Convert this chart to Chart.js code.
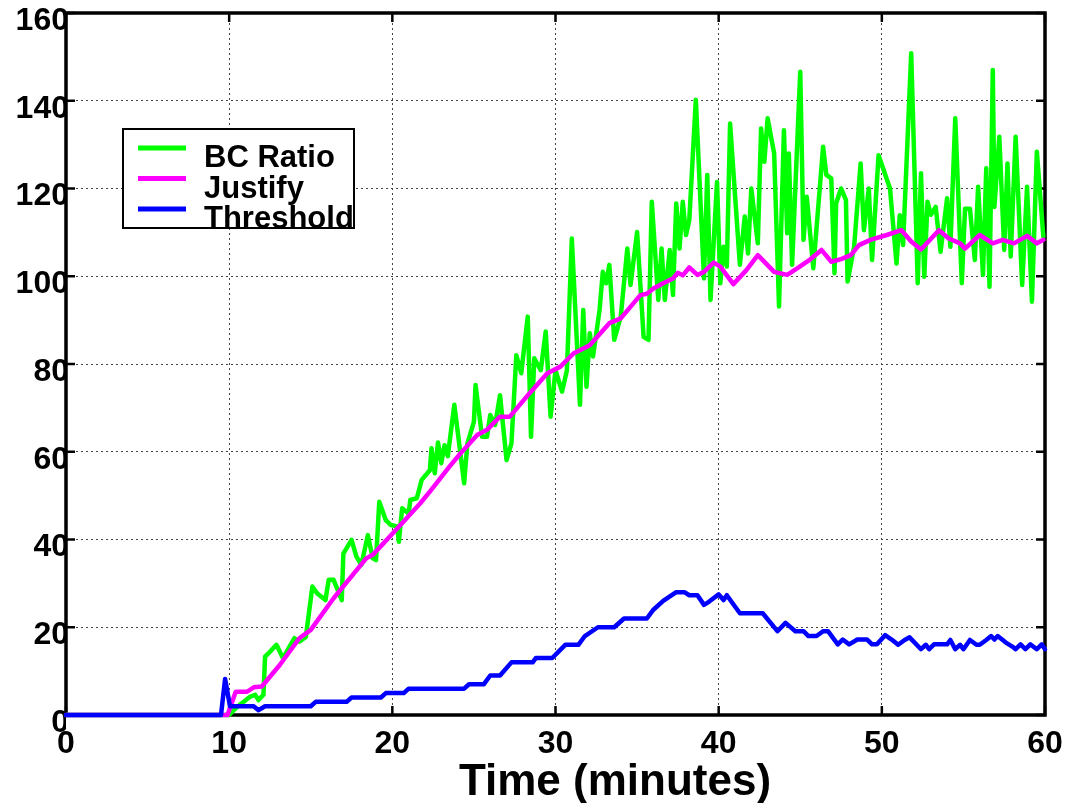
<!DOCTYPE html>
<html>
<head>
<meta charset="utf-8">
<script src="https://cdn.jsdelivr.net/npm/chart.js@4"></script>
<style>
  html, body { margin: 0; padding: 0; background: #fff; }
</style>
</head>
<body>
<canvas id="chart" width="1071" height="803"></canvas>
<script>
// Data (time in minutes)
const bcTime = [0, 9.9, 10.0, 10.5, 11.3, 11.6, 11.8, 12.1, 12.2, 12.5, 12.9, 13.3, 13.7, 14.0, 14.3, 14.7,
  15.1, 15.4, 15.9, 16.1, 16.4, 16.9, 17.0, 17.5, 17.8, 18.1, 18.5, 18.8, 19.0, 19.2, 19.6, 19.9,
  20.3, 20.4, 20.6, 21.0, 21.1, 21.5, 21.8, 22.3, 22.4, 22.6, 22.8, 23.0, 23.2, 23.4, 23.8, 24.4,
  24.6, 25.0, 25.1, 25.5, 25.8, 26.0, 26.3, 26.6, 27.0, 27.3, 27.6, 27.9, 28.3, 28.5, 28.7, 29.1,
  29.4, 29.7, 30.0, 30.4, 30.7, 31.0, 31.5, 31.7, 31.9, 32.1, 32.3, 32.7, 32.9, 33.1, 33.3, 33.6,
  34.0, 34.4, 34.6, 35.0, 35.4, 35.7, 35.9, 36.3, 36.5, 36.7, 37.0, 37.2, 37.4, 37.6, 37.8, 38.0,
  38.2, 38.6, 39.1, 39.3, 39.5, 39.9, 40.1, 40.3, 40.5, 40.7, 41.3, 41.6, 41.8, 42.0, 42.4, 42.6,
  42.8, 43.0, 43.4, 43.7, 44.0, 44.2, 44.3, 44.5, 45.0, 45.2, 45.4, 45.8, 46.4, 46.6, 46.9, 47.1,
  47.2, 47.5, 47.8, 47.9, 48.3, 48.7, 48.9, 49.2, 49.4, 49.8, 50.0, 50.5, 50.9, 51.1, 51.3, 51.8,
  52.2, 52.4, 52.6, 52.8, 53.0, 53.3, 53.6, 54.0, 54.2, 54.5, 54.9, 55.1, 55.4, 55.7, 55.9, 56.2,
  56.4, 56.6, 56.8, 56.9, 57.2, 57.5, 57.7, 57.9, 58.2, 58.6, 58.9, 59.2, 59.5, 59.9]
const bcRatio = [0, 0, 0, 1.9, 4.2, 4.6, 3.4, 4.6, 13.3, 14.4, 16.0, 12.9, 15.6, 17.5, 16.7, 17.8,
  29.3, 27.7, 26.2, 30.8, 30.8, 26.2, 36.8, 39.9, 36.1, 34.2, 41.0, 35.7, 35.3, 48.6, 44.4, 43.3,
  43.0, 39.5, 47.1, 45.9, 49.0, 49.4, 53.6, 55.8, 60.8, 55.1, 62.1, 57.4, 61.5, 59.0, 70.7, 52.8,
  61.9, 66.8, 75.2, 63.4, 63.4, 68.4, 66.1, 72.9, 58.1, 61.9, 82.0, 77.9, 90.8, 63.4, 81.3, 78.6,
  87.4, 68.0, 78.6, 73.7, 78.6, 108.6, 70.7, 92.3, 74.8, 87.0, 81.7, 92.3, 101.0, 98.4, 102.6, 85.5,
  90.8, 106.3, 98.0, 110.1, 86.2, 85.5, 117.0, 94.6, 106.3, 94.6, 106.0, 95.7, 116.6, 106.3, 117.0, 109.4,
  112.8, 140.2, 99.5, 123.1, 94.6, 121.5, 98.4, 106.7, 102.2, 134.8, 102.6, 113.6, 105.2, 120.0, 107.5, 133.7,
  126.1, 136.0, 128.0, 93.1, 133.3, 109.8, 128.0, 102.6, 146.6, 108.3, 118.1, 101.8, 129.5, 123.1, 122.3, 100.7,
  116.6, 120.0, 117.4, 98.8, 106.7, 125.7, 110.5, 120.0, 103.7, 127.6, 125.4, 120.0, 102.9, 113.9, 107.1, 150.8,
  98.4, 123.5, 99.9, 117.0, 114.0, 115.8, 105.6, 117.8, 106.7, 136.0, 98.4, 115.4, 115.4, 103.7, 120.4, 100.3,
  124.6, 97.6, 147.0, 115.8, 131.8, 106.0, 125.7, 104.5, 131.8, 98.0, 120.4, 94.2, 128.4, 109.0]

const justifyTime = [0, 9.9, 10.4, 11.1, 11.5, 12.0, 13.1, 14.3, 15.0, 16.4, 18.4, 18.8, 20.3, 21.7, 22.3,
  23.5, 24.1, 25.2, 25.8, 26.6, 27.2, 28.4, 29.5, 30.3, 31.1, 32.1, 33.3, 34.0, 35.2, 35.6, 36.0,
  36.6, 37.2, 37.5, 37.8, 38.2, 38.7, 39.1, 39.7, 40.1, 40.9, 41.7, 42.4, 43.4, 44.2, 44.9, 45.6,
  46.3, 46.9, 47.5, 48.1, 48.6, 49.3, 50.3, 51.2, 51.8, 52.4, 53.5, 54.1, 54.8, 55.1, 56.0, 56.8,
  57.4, 58.1, 58.9, 59.5, 59.9]
const justifyValue = [0, 0, 5.3, 5.3, 6.3, 6.5, 11.4, 17.5, 19.4, 26.6, 35.7, 36.5, 42.5, 48.2, 50.9,
  56.6, 59.3, 63.8, 65.0, 68.0, 68.0, 73.3, 77.9, 79.4, 82.4, 84.3, 89.3, 90.4, 95.7, 96.0, 97.2,
  98.4, 99.5, 100.8, 100.2, 102.0, 100.3, 101.0, 103.1, 102.2, 98.2, 101.4, 104.8, 101.0, 100.3, 102.0, 103.8,
  106.0, 103.3, 103.9, 104.8, 107.1, 108.3, 109.4, 110.5, 107.9, 106.1, 110.5, 108.6, 107.5, 106.3, 109.4, 107.5,
  108.3, 107.5, 109.2, 107.5, 108.3]

const thresholdTime = [0, 9.5, 9.75, 10.05, 11.5, 11.8, 12.2, 15, 15.3, 17.2, 17.5, 19.3, 19.6, 20.7, 21.0,
  24.4, 24.7, 25.6, 26.0, 26.6, 27.3, 28.6, 28.8, 29.8, 30.6, 31.4, 31.8, 32.6, 33.6, 34.2, 35.6,
  36.0, 36.6, 37.4, 37.9, 38.2, 38.7, 39.1, 39.4, 40.0, 40.3, 40.5, 41.3, 42.7, 43.6, 44.1, 44.7,
  45.2, 45.5, 46.0, 46.4, 46.7, 47.3, 47.6, 48.0, 48.5, 49.1, 49.4, 49.7, 50.2, 50.6, 51.0, 51.4,
  51.7, 52.4, 52.7, 52.9, 53.2, 54.0, 54.2, 54.5, 54.8, 55.0, 55.4, 55.8, 56.0, 56.4, 56.7, 56.9,
  57.1, 57.6, 58.0, 58.2, 58.5, 58.8, 59.1, 59.5, 59.8, 60]
const thresholdValue = [0, 0, 8.2, 2, 2, 1.1, 2, 2, 3, 3, 4, 4, 5, 5, 6,
  6, 7, 7, 9, 9, 12, 12, 13, 13, 16, 16, 18, 20, 20, 22, 22,
  24, 26, 28, 28, 27.3, 27.3, 25.1, 25.8, 27.5, 26.2, 27.3, 23.2, 23.2, 19.1, 21, 19.1,
  19.1, 18, 18, 19.1, 19.1, 16.1, 17.2, 16.1, 17.2, 17.2, 16.1, 16.1, 18.2, 17.2, 16, 17.1,
  17.7, 15, 16, 15, 16.1, 16.1, 17.1, 15, 16, 15, 17.1, 16, 16, 17.1, 18, 17.2,
  18, 16.5, 15.6, 15, 16.1, 15, 16.1, 15, 16.1, 15]

const seriesNames = ['BC Ratio', 'Justify', 'Threshold']
const seriesColors = ['#00ff00', '#ff00ff', '#0000ff']
const xTitle = 'Time (minutes)'

const toPoints = (xs, ys) => xs.map((x, i) => ({ x: x, y: ys[i] }))

const FONT = '"Liberation Sans", Arial, sans-serif'

// axes box, inward ticks, legend and x title
const frame = {
  id: 'frame',
  beforeDatasetsDraw(chart) {
    const { ctx, chartArea: a, scales } = chart
    ctx.save()
    ctx.strokeStyle = '#000'
    ctx.lineWidth = 2.5
    ctx.beginPath()
    scales.x.ticks.forEach(t => {
      const px = scales.x.getPixelForValue(t.value)
      ctx.moveTo(px, a.bottom); ctx.lineTo(px, a.bottom - 9)
      ctx.moveTo(px, a.top); ctx.lineTo(px, a.top + 9)
    })
    scales.y.ticks.forEach(t => {
      const py = scales.y.getPixelForValue(t.value)
      ctx.moveTo(a.left, py); ctx.lineTo(a.left + 9, py)
      ctx.moveTo(a.right, py); ctx.lineTo(a.right - 9, py)
    })
    ctx.stroke()
    ctx.lineWidth = 3.5
    ctx.strokeRect(a.left, a.top, a.right - a.left, a.bottom - a.top)
    ctx.restore()
  },
  afterDraw(chart) {
    const { ctx } = chart
    ctx.save()
    // legend
    ctx.fillStyle = '#fff'
    ctx.fillRect(123, 129, 231, 99)
    ctx.strokeStyle = '#000'
    ctx.lineWidth = 2
    ctx.strokeRect(123, 129, 231, 99)
    ctx.font = 'bold 31px ' + FONT
    ctx.textBaseline = 'alphabetic'
    ctx.textAlign = 'left'
    seriesNames.forEach((name, i) => {
      const y = 148 + i * 30.5
      ctx.strokeStyle = seriesColors[i]
      ctx.lineWidth = 5
      ctx.beginPath()
      ctx.moveTo(138, y); ctx.lineTo(186, y)
      ctx.stroke()
      ctx.fillStyle = '#000'
      ctx.fillText(name, 204, y + 19)
    })
    // x axis title
    ctx.font = 'bold 44px ' + FONT
    ctx.textAlign = 'center'
    ctx.fillText(xTitle, 615, 795)
    ctx.restore()
  }
}

const lineStyle = (i) => ({
  borderColor: seriesColors[i],
  backgroundColor: seriesColors[i],
  borderWidth: 4.5,
  pointRadius: 0,
  tension: 0,
  fill: false,
  clip: 8,
  borderJoinStyle: 'round',
  borderCapStyle: 'round'
})

const ctx = document.getElementById('chart').getContext('2d')
const myChart = new Chart(ctx, {
  type: 'line',
  data: {
    datasets: [
      { label: seriesNames[0], data: toPoints(bcTime, bcRatio), order: 2, ...lineStyle(0) },
      { label: seriesNames[1], data: toPoints(justifyTime, justifyValue), order: 1, ...lineStyle(1) },
      { label: seriesNames[2], data: toPoints(thresholdTime, thresholdValue), order: 0, ...lineStyle(2) }
    ]
  },
  options: {
    responsive: false,
    animation: false,
    devicePixelRatio: 1,
    layout: { padding: { top: 13, right: 26, left: 0, bottom: 0 } },
    plugins: { legend: { display: false }, tooltip: { enabled: false } },
    scales: {
      x: {
        type: 'linear',
        min: 0,
        max: 60,
        ticks: { stepSize: 10, color: '#000', padding: 10, maxRotation: 0, font: { family: FONT, size: 32, weight: 'bold' } },
        grid: { color: '#444', lineWidth: 1, drawTicks: false },
        border: { display: false, dash: [2, 3] },
        afterFit: s => { s.height = 88; s.paddingLeft = 0; s.paddingRight = 0 }
      },
      y: {
        min: 0,
        max: 160,
        ticks: { stepSize: 20, color: '#000', padding: -3, labelOffset: 8, font: { family: FONT, size: 32, weight: 'bold' } },
        grid: { color: '#444', lineWidth: 1, drawTicks: false },
        border: { display: false, dash: [2, 3] },
        afterFit: s => { s.width = 66; s.paddingTop = 0; s.paddingBottom = 0 }
      }
    }
  },
  plugins: [frame]
})
</script>
</body>
</html>
